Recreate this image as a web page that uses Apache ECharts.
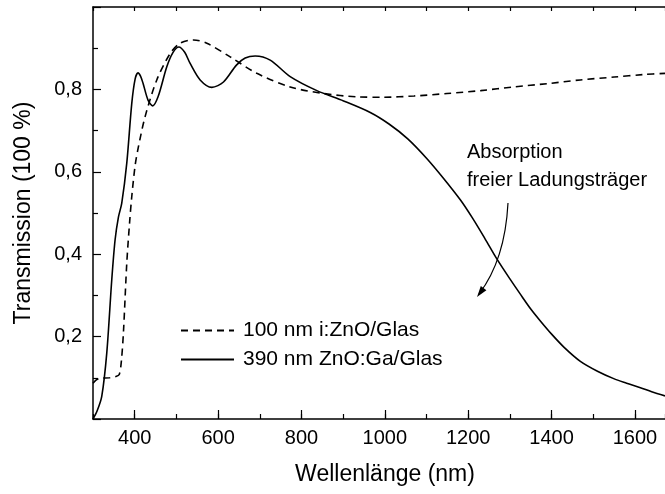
<!DOCTYPE html>
<html>
<head>
<meta charset="utf-8">
<script src="https://cdn.jsdelivr.net/npm/echarts@6/dist/echarts.min.js"></script>
<style>
html,body{margin:0;padding:0;background:#fff;}
#chart{width:665px;height:494px;}
</style>
</head>
<body>
<div id="chart"></div>
<script>
// Wavelength (nm) and transmission for 390 nm ZnO:Ga/Glas (solid)
var gaWavelength = [300,310,321,333,345,353,361,369,381,393,401,408,414,420,432,443,456,477,492,506,520,533,557,585,613,644,665,689,725,773,837,901,965,1010,1055,1100,1140,1181,1210,1240,1269,1300,1325,1350,1373,1400,1430,1469,1510,1549,1580,1613,1640,1672];
var gaTrans      = [0.0,0.02,0.055,0.16,0.338,0.435,0.49,0.524,0.621,0.766,0.825,0.840,0.832,0.815,0.774,0.760,0.782,0.855,0.89,0.903,0.89,0.863,0.823,0.805,0.818,0.859,0.876,0.881,0.871,0.831,0.797,0.772,0.744,0.716,0.680,0.633,0.585,0.532,0.488,0.438,0.388,0.340,0.303,0.267,0.238,0.206,0.174,0.140,0.116,0.098,0.087,0.076,0.066,0.056];
// Wavelength (nm) and transmission for 100 nm i:ZnO/Glas (dashed)
var iWavelength = [300,308,317,340,355,363,368,373,381,388,393,401,409,425,453,485,509,541,573,629,693,773,853,933,997,1070,1149,1230,1309,1390,1469,1550,1620,1672];
var iTrans      = [0.087,0.095,0.099,0.100,0.103,0.108,0.14,0.21,0.378,0.48,0.54,0.615,0.661,0.734,0.823,0.887,0.912,0.920,0.912,0.879,0.839,0.806,0.790,0.782,0.781,0.784,0.790,0.797,0.806,0.814,0.823,0.830,0.836,0.839];

var seriesNames = ['100 nm i:ZnO/Glas', '390 nm ZnO:Ga/Glas'];
var xTickLabels = [400,600,800,1000,1200,1400,1600];
var yTickLabels = [0.2,0.4,0.6,0.8];
var xTitle = 'Wellenlänge (nm)';
var yTitle = 'Transmission (100 %)';
var noteLines = ['Absorption', 'freier Ladungsträger'];

function zip(a, b) { return a.map(function (v, i) { return [v, b[i]]; }); }

var FONT = '"Liberation Sans", Arial, sans-serif';
var chart = echarts.init(document.getElementById('chart'), null, {renderer: 'canvas'});

var xMin = 300, xMax = 1672;
var option = {
  backgroundColor: '#fff',
  animation: false,
  textStyle: {fontFamily: FONT, color: '#000'},
  grid: {left: 93, top: 7, right: 0, bottom: 75, containLabel: false},
  legend: {
    orient: 'vertical', left: 175, top: 315,
    itemWidth: 53, itemHeight: 14, itemGap: 8,
    itemStyle: {color: 'rgba(0,0,0,0)', borderColor: 'rgba(0,0,0,0)', borderWidth: 0},
    textStyle: {fontFamily: FONT, fontSize: 21, color: '#000', padding: [0,0,0,4]},
    data: seriesNames
  },
  xAxis: [
    {
      type: 'value', position: 'bottom', min: xMin, max: xMax, interval: 100,
      axisLine: {show: true, lineStyle: {color: '#000', width: 1.5}},
      axisTick: {show: true, inside: true, length: 5, lineStyle: {color: '#000', width: 1.2}},
      axisLabel: {show: true, customValues: xTickLabels, margin: 9, fontSize: 20, color: '#000', fontFamily: FONT,
        formatter: function (v) { return xTickLabels.indexOf(v) >= 0 ? String(v) : ''; }},
      splitLine: {show: false},
      name: xTitle, nameLocation: 'middle', nameGap: 44,
      nameTextStyle: {fontSize: 23, color: '#000', fontFamily: FONT, padding: [0,0,0,12]}
    },
    {
      type: 'value', position: 'bottom', min: xMin, max: xMax, interval: 100,
      axisLine: {show: false},
      axisTick: {show: true, inside: true, length: 9, customValues: xTickLabels, lineStyle: {color: '#000', width: 1.2}},
      axisLabel: {show: false},
      splitLine: {show: false}
    },
    {
      type: 'value', position: 'top', min: xMin, max: xMax, interval: 100,
      axisLine: {show: true, lineStyle: {color: '#000', width: 1.5}},
      axisTick: {show: true, inside: true, length: 4, lineStyle: {color: '#000', width: 1.2}},
      axisLabel: {show: false},
      splitLine: {show: false}
    }
  ],
  yAxis: [{
    type: 'value', min: 0, max: 1, interval: 0.2,
    axisLine: {show: true, lineStyle: {color: '#000', width: 1.5}},
    axisTick: {show: true, inside: true, length: 8, lineStyle: {color: '#000', width: 1.2}},
    minorTick: {show: true, splitNumber: 2, length: 5, lineStyle: {color: '#000', width: 1.2}},
    axisLabel: {margin: 11, fontSize: 20, color: '#000', fontFamily: FONT,
      formatter: function (v) {
        var r = Math.round(v * 10) / 10;
        return yTickLabels.indexOf(r) >= 0 ? r.toFixed(1).replace('.', ',') : '';
      }},
    splitLine: {show: false},
    name: yTitle, nameLocation: 'middle', nameGap: 58,
    nameTextStyle: {fontSize: 23, color: '#000', fontFamily: FONT}
  }],
  series: [
    {
      name: seriesNames[0], type: 'line', xAxisIndex: 0, yAxisIndex: 0,
      data: zip(iWavelength, iTrans), smooth: 0.3, showSymbol: false, symbol: 'none',
      lineStyle: {color: '#000', width: 1.6, type: [7, 5]}, itemStyle: {color: '#000'}
    },
    {
      name: seriesNames[1], type: 'line', xAxisIndex: 0, yAxisIndex: 0,
      data: zip(gaWavelength, gaTrans), smooth: 0.3, showSymbol: false, symbol: 'none',
      lineStyle: {color: '#000', width: 1.6, type: 'solid'}, itemStyle: {color: '#000'}
    }
  ],
  graphic: [
    {type: 'text', left: 467, top: 142, style: {text: noteLines[0], font: '20px ' + FONT, fill: '#000'}},
    {type: 'text', left: 467, top: 170, style: {text: noteLines[1], font: '20px ' + FONT, fill: '#000'}},
    {type: 'bezierCurve', shape: {x1: 508, y1: 203, cpx1: 505, cpy1: 260, x2: 479, y2: 294},
      style: {stroke: '#000', lineWidth: 1.2, fill: null}},
    {type: 'polygon', shape: {points: [[477, 297], [486.4, 290.3], [480.8, 286.1]]}, style: {fill: '#000'}}
  ]
};
chart.setOption(option);
</script>
</body>
</html>
